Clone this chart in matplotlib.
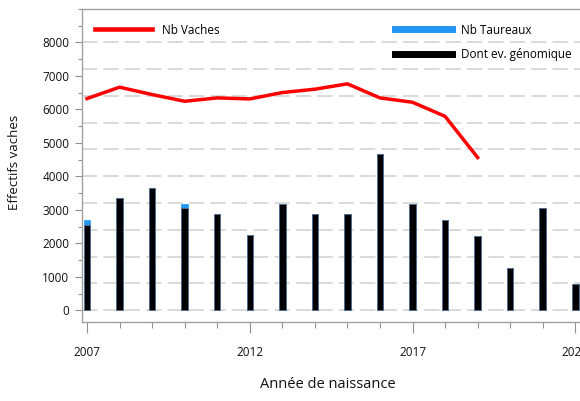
import matplotlib
matplotlib.use("Agg")
import matplotlib.pyplot as plt
from matplotlib.lines import Line2D
from matplotlib.ticker import MultipleLocator, FixedLocator

plt.rcParams['font.family'] = ['Open Sans', 'DejaVu Sans']

years = list(range(2007, 2023))
nb_taureaux = [2710, 3366, 3663, 3187, 2889, 2234, 3187, 2889, 2889, 4664, 3187, 2710, 2230, 1270, 3047, 790]
dont_genomique = [2561, 3366, 3663, 3056, 2889, 2234, 3187, 2889, 2889, 4664, 3187, 2710, 2230, 1270, 3047, 790]
vache_years = list(range(2007, 2020))
nb_vaches = [6320, 6660, 6440, 6240, 6340, 6310, 6500, 6600, 6760, 6340, 6210, 5790, 4560]

yticks = [0, 1000, 2000, 3000, 4000, 5000, 6000, 7000, 8000]
xticks_major = [2007, 2012, 2017, 2022]

W, H = 580, 401
fig = plt.figure(figsize=(W / 100, H / 100), dpi=100)
left, right, top, bottom = 82, 580, 8.5, 322
ax = fig.add_axes([left / W, 1 - bottom / H, (right - left) / W, (bottom - top) / H])

x0 = 2007 - 5 / 32.55
x1 = 2022 + (right - 575.3) / 32.55
ax.set_xlim(x0, x1)
pxk = 33.5
ax.set_ylim(-(bottom - 310.3) / pxk * 1000, (310.3 - top) / pxk * 1000)

# gridlines every 800
for g in range(0, 8001, 800):
    ax.axhline(g, color='#cfcfcf', lw=1.1, linestyle=(0, (10, 4)), zorder=0)

bw = 0.2
ax.bar(years, nb_taureaux, width=bw, color='#2196F3', edgecolor='#2196F3', lw=0.5, zorder=2)
ax.bar(years, dont_genomique, width=bw, color='black', edgecolor='#5b7391', lw=0.6, zorder=3)
ax.plot(vache_years, nb_vaches, color='#ff0000', lw=2.5, zorder=4, solid_joinstyle='round')

for s in ['right']:
    ax.spines[s].set_visible(False)
for s in ['left', 'bottom', 'top']:
    ax.spines[s].set_color('#a0a0a0')
    ax.spines[s].set_linewidth(1.0)

ax.yaxis.set_major_locator(FixedLocator(yticks))
ax.yaxis.set_minor_locator(MultipleLocator(500))
ax.set_yticklabels([str(v) for v in yticks])
ax.xaxis.set_major_locator(FixedLocator(xticks_major))
ax.xaxis.set_minor_locator(MultipleLocator(1))
ax.set_xticklabels([str(v) for v in xticks_major])

ax.tick_params(axis='y', which='major', length=5, width=0.8, color='#909090', pad=4, labelsize=8.5, labelcolor='#111111')
ax.tick_params(axis='y', which='minor', length=3, width=0.8, color='#909090')
ax.tick_params(axis='x', which='major', length=8, width=0.8, color='#909090', pad=9, labelsize=8.5, labelcolor='#111111')
ax.tick_params(axis='x', which='minor', length=4.3, width=0.8, color='#909090')

fig.text(15 / W, 1 - 162 / H, 'Effectifs vaches', rotation=90, ha='center', va='center', fontsize=9.5, color='#111111')
fig.text(328 / W, 1 - 385 / H, 'Année de naissance', ha='center', va='center', fontsize=10.5, color='#111111')

h1 = [Line2D([], [], color='#ff0000', lw=3.3)]
leg1 = ax.legend(h1, ['Nb Vaches'], loc='upper left', bbox_to_anchor=(95 / W, 1 - 23.5 / H),
                 bbox_transform=fig.transFigure, frameon=False, fontsize=8.5, handlelength=4.8,
                 handletextpad=0.9, borderpad=0, borderaxespad=0)
ax.add_artist(leg1)
h2 = [Line2D([], [], color='#2196F3', lw=5), Line2D([], [], color='black', lw=5)]
ax.legend(h2, ['Nb Taureaux', 'Dont ev. génomique'], loc='upper left', bbox_to_anchor=(395 / W, 1 - 23.5 / H),
          bbox_transform=fig.transFigure, frameon=False, fontsize=8.5, handlelength=4.8,
          handletextpad=0.75, borderpad=0, borderaxespad=0, labelspacing=0.95)

fig.savefig('out.png', dpi=100)
